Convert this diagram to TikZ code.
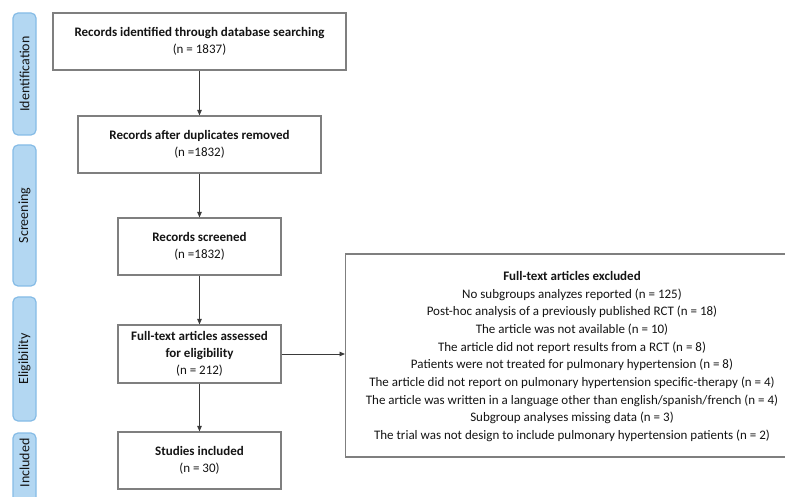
\documentclass[tikz,border=0pt]{standalone}
\usepackage{fontspec}
\setmainfont{Carlito}
\usetikzlibrary{arrows.meta}
\definecolor{barfill}{HTML}{B3D7F2}
\definecolor{bardraw}{HTML}{86BCE6}
\definecolor{boxdraw}{HTML}{7F7F7F}
\definecolor{txt}{HTML}{141414}
\definecolor{arr}{HTML}{3A3A3A}
\begin{document}
\begin{tikzpicture}[x=1pt,y=-1pt,
  stagebar/.style={draw=bardraw, fill=barfill, line width=1.2pt, rounded corners=5pt},
  stagetext/.style={rotate=90, text=txt, font=\fontsize{14}{15}\selectfont},
  flowbox/.style={draw=boxdraw, line width=1.2pt, fill=white, text=txt, align=center,
    inner sep=0pt, font=\fontsize{13}{17}\selectfont},
  flowarrow/.style={draw=arr, line width=0.9pt, -{Triangle[length=5.5pt,width=4.5pt]}}]
\useasboundingbox (0,0) rectangle (785,497);
\clip (0,0) rectangle (785,497);
% stage bars
\draw[stagebar] (13,13) rectangle (36,135);
\draw[stagebar] (13,145) rectangle (36,286);
\draw[stagebar] (13,297) rectangle (36,421);
\draw[stagebar] (13,433) rectangle (36,520);
\node[stagetext] (s1) at (24.5,74) {Identification};
\node[stagetext] (s2) at (24.5,215.5) {Screening};
\node[stagetext] (s3) at (24.5,359) {Eligibility};
\node[stagetext] (s4) at (24.5,463) {Included};
% boxes
\node[flowbox, minimum width=293pt, minimum height=57pt] (b1) at (199.5,41.5)
  {\textbf{Records identified through database searching}\\(n = 1837)};
\node[flowbox, minimum width=243pt, minimum height=57pt] (b2) at (199.5,144.5)
  {\textbf{Records after duplicates removed}\\(n =1832)};
\node[flowbox, minimum width=163pt, minimum height=57pt] (b3) at (199.5,246.5)
  {\textbf{Records screened}\\(n =1832)};
\node[flowbox, minimum width=163pt, minimum height=58pt] (b4) at (199.5,354)
  {\textbf{Full-text articles assessed}\\\textbf{for eligibility}\\(n = 212)};
\node[flowbox, minimum width=163pt, minimum height=57pt] (b5) at (199.5,460.5)
  {\textbf{Studies included}\\(n = 30)};
\node[flowbox, minimum width=455pt, minimum height=203pt, anchor=west] (ex) at (345,355.5)
  {\hspace*{0pt}};
\node[text=txt, align=center, font=\fontsize{13}{17.7}\selectfont] (ext) at (572,356.5)
  {\textbf{Full-text articles excluded}\\
   No subgroups analyzes reported (n = 125)\\
   Post-hoc analysis of a previously published RCT (n = 18)\\
   The article was not available (n = 10)\\
   The article did not report results from a RCT (n = 8)\\
   Patients were not treated for pulmonary hypertension (n = 8)\\
   The article did not report on pulmonary hypertension specific-therapy (n = 4)\\
   The article was written in a language other than english/spanish/french (n = 4)\\
   Subgroup analyses missing data (n = 3)\\
   The trial was not design to include pulmonary hypertension patients (n = 2)};
% arrows
\draw[flowarrow] (b1) -- (b2);
\draw[flowarrow] (b2) -- (b3);
\draw[flowarrow] (b3) -- (b4);
\draw[flowarrow] (b4) -- (b5);
\draw[flowarrow] (b4.east) -- (b4.east -| ex.west);
\end{tikzpicture}
\end{document}
